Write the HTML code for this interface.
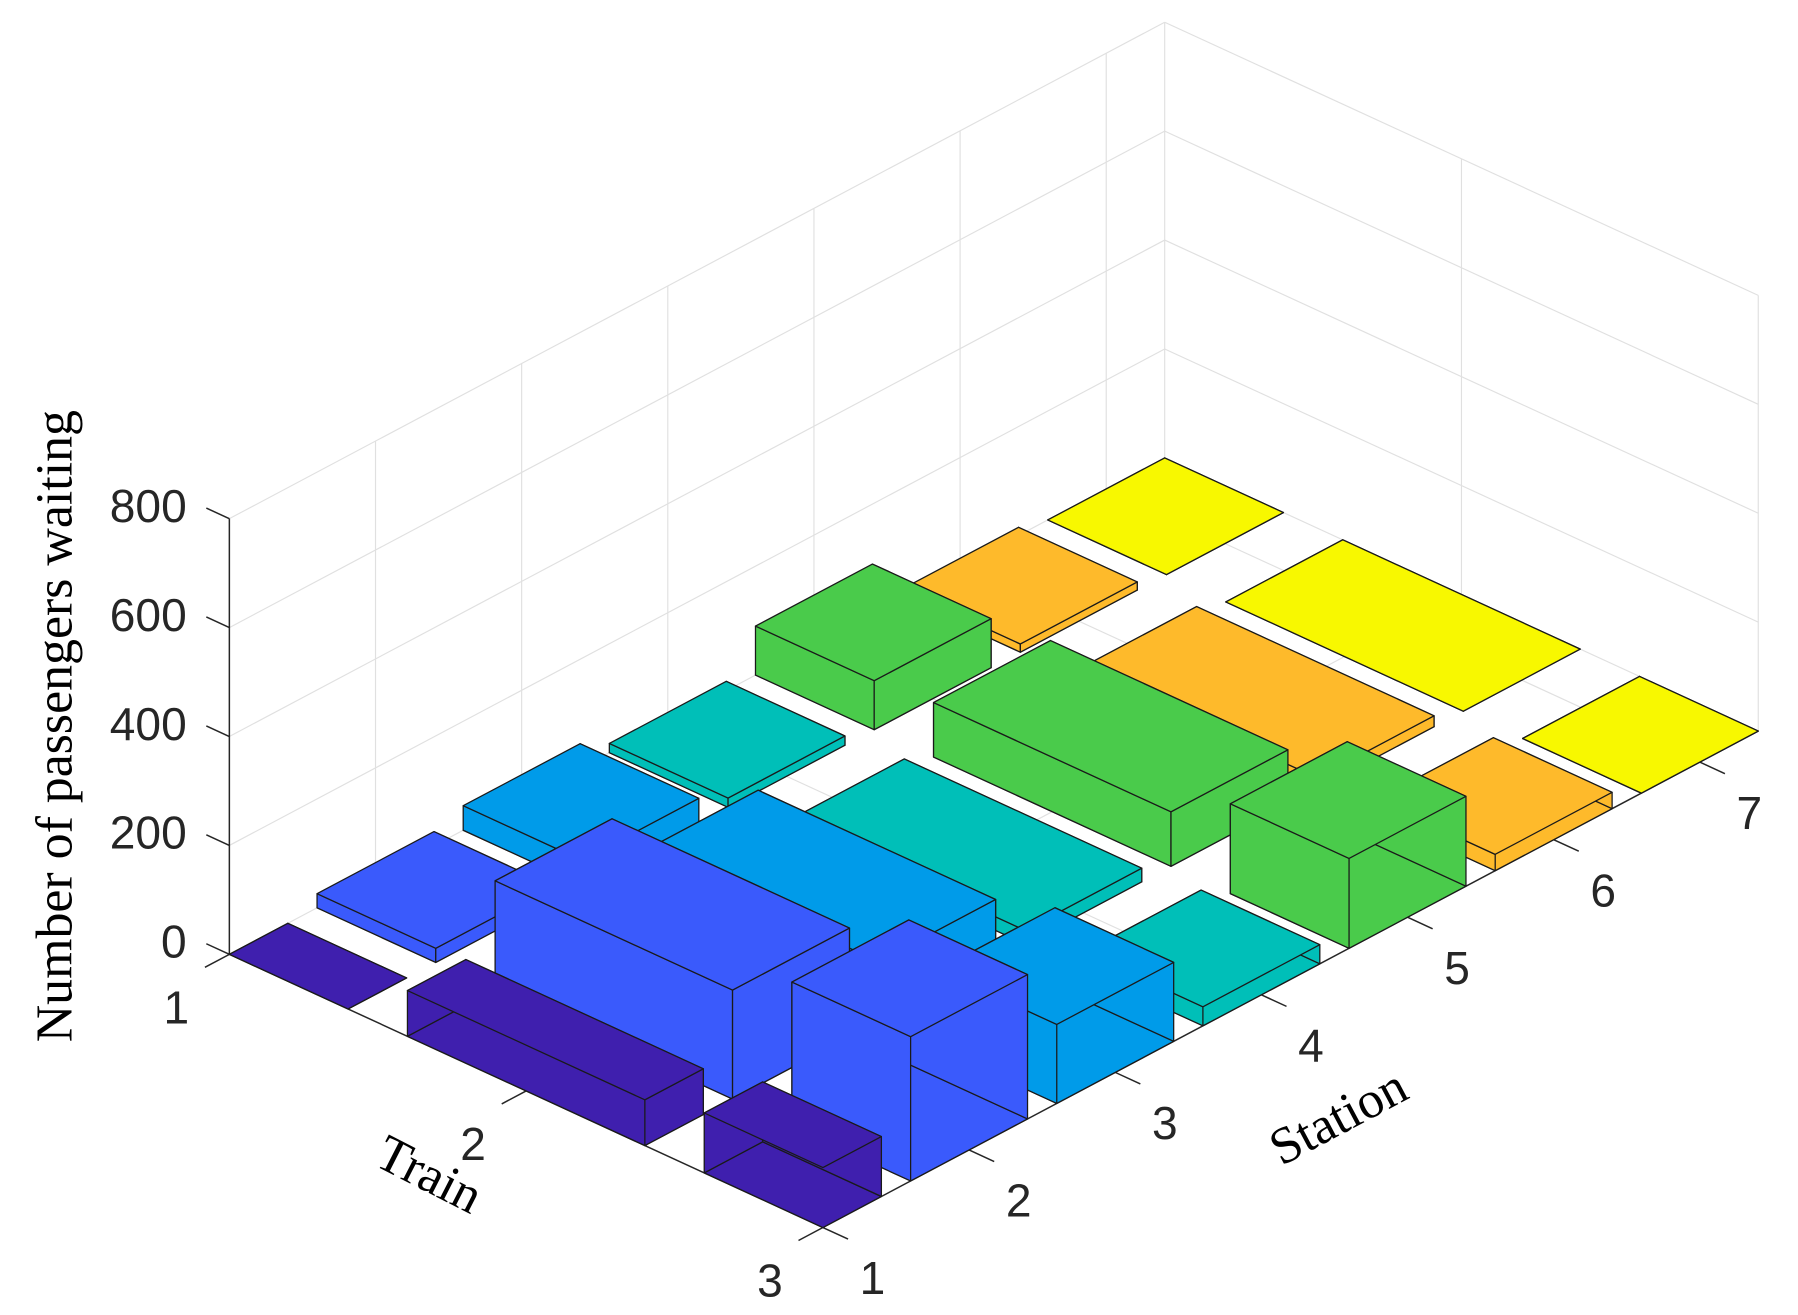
<!DOCTYPE html>
<html><head><meta charset="utf-8"><style>
html,body{margin:0;padding:0;background:#fff;}
svg{display:block;}
.tick{font-family:"Liberation Sans",Arial,sans-serif;font-size:40px;fill:#262626;}
.lab{font-family:"Liberation Serif","Times New Roman",serif;font-size:45px;fill:#000;}
</style></head><body>
<svg id="chart" width="1798" height="1315" viewBox="0 0 1560 1140.9" preserveAspectRatio="none" xmlns="http://www.w3.org/2000/svg">
<g id="grid"></g>
<g id="axes"></g>
<g id="bars"></g>
<g id="labels"></g>
<text class="lab" x="0" y="0" text-anchor="middle" transform="translate(62,630) rotate(-90)">Number of passengers waiting</text>
<text class="lab" x="0" y="0" text-anchor="middle" transform="translate(366,1032) rotate(27)">Train</text>
<text class="lab" x="0" y="0" text-anchor="middle" transform="translate(1168,982) rotate(-28)">Station</text>
</svg>
<script>
const trains = [1, 2, 3];
const stations = [1, 2, 3, 4, 5, 6, 7];
const train1Values = [0, 26, 45, 17, 90, 15, 0];
const train2Values = [84, 200, 110, 25, 100, 20, 0];
const train3Values = [110, 265, 145, 35, 165, 30, 0];
const zTicks = [0, 200, 400, 600, 800];
const stationColors = ["#3f1fae", "#3a5afc", "#009be9", "#00bfb8", "#4acb4b", "#feba2b", "#f8f800"];

const NS = "http://www.w3.org/2000/svg";
const T0 = 1, T1 = 3, S0 = 1, S1 = 7.4, ZMAX = 800;
const A = [199, 828], VT = [257.5, 118.5], VS = [126.8, -67.3], ZK = 94.5 / 200;
function P(t, s, z) {
  return [A[0] + (t - T0) * VT[0] + (s - S0) * VS[0], A[1] + (t - T0) * VT[1] + (s - S0) * VS[1] - z * ZK];
}
function line(g, p, q, color, w) {
  const l = document.createElementNS(NS, "line");
  l.setAttribute("x1", p[0]); l.setAttribute("y1", p[1]);
  l.setAttribute("x2", q[0]); l.setAttribute("y2", q[1]);
  l.setAttribute("stroke", color); l.setAttribute("stroke-width", w);
  g.appendChild(l);
  return l;
}
const grid = document.getElementById("grid");
const gc = "#e0e0e0";
stations.forEach(s => { if (s > S0) { const l = line(grid, P(T0, s, 0), P(T0, s, ZMAX), gc, 1);
  
   } });
{ const l = line(grid, P(T0, S1, 0), P(T0, S1, ZMAX), gc, 1);
  
   }
zTicks.forEach(z => {
  const l1 = line(grid, P(T0, S0, z), P(T0, S1, z), gc, 1);
  
  
  const l2 = line(grid, P(T0, S1, z), P(T1, S1, z), gc, 1);
  
  
});
trains.forEach(t => { if (t > T0) { const l = line(grid, P(t, S1, 0), P(t, S1, ZMAX), gc, 1);
  
   } });
stations.forEach(s => { if (s > S0) { const l = line(grid, P(T0, s, 0), P(T1, s, 0), gc, 1);
  
   } });
trains.forEach(t => { if (t > T0 && t < T1) { const l = line(grid, P(t, S0, 0), P(t, S1, 0), gc, 1);
  
   } });

const axes = document.getElementById("axes");
const ac = "#262626";
{ const l = line(axes, P(T0, S0, 0), P(T0, S0, ZMAX), ac, 1.3);
  
   }
{ const l = line(axes, P(T0, S0, 0), P(T1, S0, 0), ac, 1.3);
  
   }
{ const l = line(axes, P(T1, S0, 0), P(T1, S1, 0), ac, 1.3);
  
   }
const nT = Math.hypot(VT[0], VT[1]), nS = Math.hypot(VS[0], VS[1]);
const labels = document.getElementById("labels");
function text(str, x, y, anchor) {
  const t = document.createElementNS(NS, "text");
  t.setAttribute("x", x); t.setAttribute("y", y);
  t.setAttribute("class", "tick");
  t.setAttribute("text-anchor", anchor);
  t.setAttribute("dominant-baseline", "central");
  t.textContent = str;
  labels.appendChild(t);
  return t;
}
zTicks.forEach(z => {
  const p = P(T0, S0, z);
  const q = [p[0] - VT[0] / nT * 22, p[1] - VT[1] / nT * 22];
  const l = line(axes, p, q, ac, 1.3);
  
  
  const t = text(String(z), p[0] - 37, p[1] - 11, "end");
  
  
});
trains.forEach(tr => {
  const p = P(tr, S0, 0);
  const q = [p[0] - VS[0] / nS * 24, p[1] - VS[1] / nS * 24];
  const l = line(axes, p, q, ac, 1.3);
  
  
  const t = text(String(tr), p[0] - 46, p[1] + 46, "middle");
  
  
});
stations.forEach(st => {
  const p = P(T1, st, 0);
  const q = [p[0] + VT[0] / nT * 24, p[1] + VT[1] / nT * 24];
  const l = line(axes, p, q, ac, 1.3);
  
  
  const t = text(String(st), p[0] + 43, p[1] + 44, "middle");
  
  
});

const values = [train1Values, train2Values, train3Values];
const items = [];
trains.forEach((tr, i) => stations.forEach((st, j) => items.push({ tr, st, v: values[i][j], c: stationColors[j] })));
items.sort((a, b) => (a.tr - a.st) - (b.tr - b.st));
const barsG = document.getElementById("bars");
function poly(g, pts, fill) {
  const p = document.createElementNS(NS, "polygon");
  p.setAttribute("points", pts.map(q => q[0].toFixed(2) + "," + q[1].toFixed(2)).join(" "));
  p.setAttribute("fill", fill);
  p.setAttribute("stroke", "#1a1a1a");
  p.setAttribute("stroke-width", 1.1);
  p.setAttribute("stroke-linejoin", "round");
  g.appendChild(p);
  return p;
}
items.forEach(b => {
  const g = document.createElementNS(NS, "g");
  
  
  barsG.appendChild(g);
  const ta = Math.max(b.tr - 0.4, T0), tb = Math.min(b.tr + 0.4, T1);
  const sa = Math.max(b.st - 0.4, S0), sb = Math.min(b.st + 0.4, S1);
  const clipTmax = b.tr + 0.4 > T1, clipSmin = b.st - 0.4 < S0;
  const clipTmin = b.tr - 0.4 < T0, clipSmax = b.st + 0.4 > S1;
  const h = b.v;
  poly(g, [P(ta, sa, 0), P(tb, sa, 0), P(tb, sb, 0), P(ta, sb, 0)], b.c);
  if (!clipTmin) poly(g, [P(ta, sa, 0), P(ta, sb, 0), P(ta, sb, h), P(ta, sa, h)], b.c);
  if (!clipSmax) poly(g, [P(ta, sb, 0), P(tb, sb, 0), P(tb, sb, h), P(ta, sb, h)], b.c);
  if (!clipSmin) poly(g, [P(ta, sa, 0), P(tb, sa, 0), P(tb, sa, h), P(ta, sa, h)], b.c);
  if (!clipTmax) poly(g, [P(tb, sa, 0), P(tb, sb, 0), P(tb, sb, h), P(tb, sa, h)], b.c);
  poly(g, [P(ta, sa, h), P(tb, sa, h), P(tb, sb, h), P(ta, sb, h)], b.c);
});
</script>
</body></html>
